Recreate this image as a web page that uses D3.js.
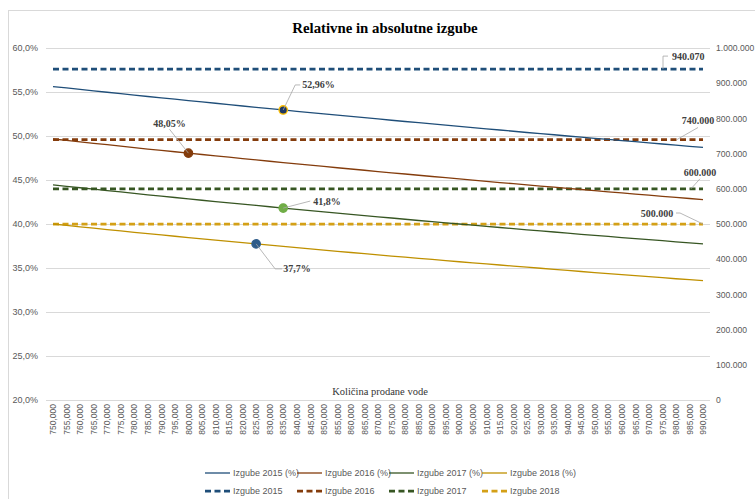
<!DOCTYPE html>
<html>
<head>
<meta charset="utf-8">
<script src="https://cdn.jsdelivr.net/npm/d3@7"></script>
<style>
  html, body { margin: 0; padding: 0; background: #fff; }
  svg { display: block; }
</style>
</head>
<body>
<svg id="chart" width="755" height="499"></svg>
<script>
// ---------------- DATA ----------------
const categories = [
  "750,000","755,000","760,000","765,000","770,000","775,000","780,000","785,000","790,000","795,000",
  "800,000","805,000","810,000","815,000","820,000","825,000","830,000","835,000","840,000","845,000",
  "850,000","855,000","860,000","865,000","870,000","875,000","880,000","885,000","890,000","895,000",
  "900,000","905,000","910,000","915,000","920,000","925,000","930,000","935,000","940,000","945,000",
  "950,000","955,000","960,000","965,000","970,000","975,000","980,000","985,000","990,000"
];

const pct2015 = [55.62,55.46,55.30,55.13,54.97,54.81,54.65,54.49,54.34,54.18,
  54.03,53.87,53.72,53.56,53.41,53.26,53.11,52.96,52.81,52.66,
  52.52,52.37,52.22,52.08,51.94,51.79,51.65,51.51,51.37,51.23,
  51.09,50.95,50.81,50.68,50.54,50.40,50.27,50.14,50.00,49.87,
  49.74,49.61,49.48,49.35,49.22,49.09,48.96,48.83,48.71];
const pct2016 = [49.66,49.50,49.33,49.17,49.01,48.84,48.68,48.52,48.37,48.21,
  48.05,47.90,47.74,47.59,47.44,47.28,47.13,46.98,46.84,46.69,
  46.54,46.39,46.25,46.11,45.96,45.82,45.68,45.54,45.40,45.26,
  45.12,44.98,44.85,44.71,44.58,44.44,44.31,44.18,44.05,43.92,
  43.79,43.66,43.53,43.40,43.27,43.15,43.02,42.90,42.77];
const pct2017 = [44.44,44.28,44.12,43.96,43.80,43.64,43.48,43.32,43.17,43.01,
  42.86,42.70,42.55,42.40,42.25,42.11,41.96,41.81,41.67,41.52,
  41.38,41.24,41.10,40.96,40.82,40.68,40.54,40.40,40.27,40.13,
  40.00,39.87,39.74,39.60,39.47,39.34,39.22,39.09,38.96,38.83,
  38.71,38.59,38.46,38.34,38.22,38.10,37.97,37.85,37.74];
const pct2018 = [40.00,39.84,39.68,39.53,39.37,39.22,39.06,38.91,38.76,38.61,
  38.46,38.31,38.17,38.02,37.88,37.74,37.59,37.45,37.31,37.17,
  37.04,36.90,36.76,36.63,36.50,36.36,36.23,36.10,35.97,35.84,
  35.71,35.59,35.46,35.34,35.21,35.09,34.97,34.84,34.72,34.60,
  34.48,34.36,34.25,34.13,34.01,33.90,33.78,33.67,33.56];

const abs2015 = 940070;
const abs2016 = 740000;
const abs2017 = 600000;
const abs2018 = 500000;

const seriesNames = ["Izgube 2015 (%)","Izgube 2016 (%)","Izgube 2017 (%)","Izgube 2018 (%)"];
const absNames = ["Izgube 2015","Izgube 2016","Izgube 2017","Izgube 2018"];

const leftTicks = [20,25,30,35,40,45,50,55,60];
const leftTickLabels = ["20,0%","25,0%","30,0%","35,0%","40,0%","45,0%","50,0%","55,0%","60,0%"];
const rightTicks = [0,100000,200000,300000,400000,500000,600000,700000,800000,900000,1000000];
const rightTickLabels = ["0","100.000","200.000","300.000","400.000","500.000","600.000","700.000","800.000","900.000","1.000.000"];

// labelled points (index into categories) and their label text
const pctLabelIdx = [17, 10, 17, 15];
const pctLabelText = ["52,96%","48,05%","41,8%","37,7%"];
const absLabelText = ["940.070","740.000","600.000","500.000"];

const title = "Relativne in absolutne izgube";
const xTitle = "Količina prodane vode";

// ---------------- STYLE ----------------
const solidColors = ["#1F4E79","#843C0C","#375623","#BF9000"];
const dashColors  = ["#1F4E79","#843C0C","#375623","#D4A017"];
const markerFill  = ["#1F3864","#843C0C","#70AD47","#2E5C8A"];
const markerStroke= ["#FFC000","#843C0C","#70AD47","#2E5C8A"];
const gridColor = "#D9D9D9";
const textColor = "#595959";

const svg = d3.select("#chart");

// chart border
svg.append("rect").attr("x", 8.5).attr("y", 10.5).attr("width", 800).attr("height", 600)
  .attr("fill", "#fff").attr("stroke", "#D9D9D9").attr("stroke-width", 1);

const plot = {left: 46, right: 710, top: 48, bottom: 400};

const x = d3.scalePoint().domain(categories).range([53, 703]);
const yL = d3.scaleLinear().domain([20, 60]).range([plot.bottom, plot.top]);
const yR = d3.scaleLinear().domain([0, 1000000]).range([plot.bottom, plot.top]);

// gridlines
svg.append("g").selectAll("line").data(leftTicks).join("line")
  .attr("x1", plot.left).attr("x2", plot.right)
  .attr("y1", d => Math.round(yL(d)) + 0.5).attr("y2", d => Math.round(yL(d)) + 0.5)
  .attr("stroke", gridColor).attr("stroke-width", 1);

// left axis
const leftAxis = d3.axisLeft(yL).tickValues(leftTicks)
  .tickFormat((d, i) => leftTickLabels[i]).tickSize(0).tickPadding(0);
const gL = svg.append("g").attr("transform", "translate(38,0)").call(leftAxis);
gL.select(".domain").remove();
gL.selectAll("text").attr("fill", textColor).style("font-family", "'Liberation Sans', Arial, sans-serif")
  .style("font-size", "9px");

// right axis
const rightAxis = d3.axisRight(yR).tickValues(rightTicks)
  .tickFormat((d, i) => rightTickLabels[i]).tickSize(0).tickPadding(0);
const gR = svg.append("g").attr("transform", "translate(716,0)").call(rightAxis);
gR.select(".domain").remove();
gR.selectAll("text").attr("fill", textColor).style("font-family", "'Liberation Sans', Arial, sans-serif")
  .style("font-size", "8.6px");

// bottom axis (rotated labels)
const bottomAxis = d3.axisBottom(x).tickSize(0).tickPadding(0);
const gB = svg.append("g").attr("transform", `translate(0,${plot.bottom})`).call(bottomAxis);
gB.select(".domain").remove();
gB.selectAll("text")
  .attr("transform", "rotate(-90)")
  .attr("x", -4).attr("y", 0).attr("dy", "0.32em")
  .attr("text-anchor", "end")
  .attr("fill", textColor)
  .style("font-family", "'Liberation Sans', Arial, sans-serif")
  .style("font-size", "8.5px");

// x axis title
svg.append("text").attr("x", 380).attr("y", 395).attr("text-anchor", "middle")
  .attr("fill", "#333").style("font-family", "'Liberation Serif', 'Times New Roman', serif")
  .style("font-size", "10.5px").text(xTitle);

// title
svg.append("text").attr("x", 385).attr("y", 33).attr("text-anchor", "middle")
  .attr("fill", "#000").style("font-family", "'Liberation Serif', 'Times New Roman', serif")
  .style("font-weight", "bold").style("font-size", "14.8px").text(title);

// dashed absolute lines
const absVals = [abs2015, abs2016, abs2017, abs2018];
const absSeries = absVals.map(v => categories.map(c => ({c, v})));
const lineR = d3.line().x(d => x(d.c)).y(d => yR(d.v));
svg.append("g").selectAll("path").data(absSeries).join("path")
  .attr("d", lineR).attr("fill", "none")
  .attr("stroke", (d, i) => dashColors[i]).attr("stroke-width", 2.75)
  .attr("stroke-dasharray", "6,3.5");

// solid pct lines
const pctSeries = [pct2015, pct2016, pct2017, pct2018].map(arr => arr.map((v, i) => ({c: categories[i], v})));
const lineL = d3.line().x(d => x(d.c)).y(d => yL(d.v));
svg.append("g").selectAll("path").data(pctSeries).join("path")
  .attr("d", lineL).attr("fill", "none")
  .attr("stroke", (d, i) => solidColors[i]).attr("stroke-width", 1.3);

// markers
const markerData = pctSeries.map((s, i) => s[pctLabelIdx[i]]);
svg.append("g").selectAll("circle").data(markerData).join("circle")
  .attr("cx", d => x(d.c)).attr("cy", d => yL(d.v)).attr("r", 4.2)
  .attr("fill", (d, i) => markerFill[i]).attr("stroke", (d, i) => markerStroke[i]).attr("stroke-width", 1.3);

// data labels with leader lines (offsets relative to the anchor point)
const labelFont = "'Liberation Serif', 'Times New Roman', serif";
const pctLabelLayout = [
  {leader: [[0,0],[12,-25],[17,-25]], tx: 19, ty: -25, anchor: "start"},
  {leader: [[0,0],[-19,-24]], tx: -19, ty: -30, anchor: "middle"},
  {leader: [[0,0],[27,-7]], tx: 30, ty: -7, anchor: "start"},
  {leader: [[0,0],[19,25],[26,25]], tx: 27, ty: 25, anchor: "start"}
];
const absLabelLayout = [
  {px: 663, leader: [[0,0],[0,-13],[5,-13]], tx: 9, ty: -13, anchor: "start"},
  {px: 677, leader: [[0,0],[21,-12]], tx: 21, ty: -19, anchor: "middle"},
  {px: 691, leader: [[0,0],[9,-10]], tx: 9, ty: -16, anchor: "middle"},
  {px: 703, leader: [[0,0],[-23,-11],[-27,-11]], tx: -46, ty: -11, anchor: "middle"}
];
const gLab = svg.append("g");
markerData.forEach((d, i) => {
  const px = x(d.c), py = yL(d.v), L = pctLabelLayout[i];
  gLab.append("path").attr("d", d3.line()(L.leader.map(p => [px + p[0], py + p[1]])))
    .attr("fill", "none").attr("stroke", "#A6A6A6").attr("stroke-width", 0.8);
  gLab.append("text").attr("x", px + L.tx).attr("y", py + L.ty).attr("dy", "0.35em")
    .attr("text-anchor", L.anchor).attr("fill", "#404040")
    .style("font-family", labelFont).style("font-weight", "bold").style("font-size", "10px")
    .text(pctLabelText[i]);
});
absVals.forEach((v, i) => {
  const L = absLabelLayout[i], px = L.px, py = yR(v);
  gLab.append("path").attr("d", d3.line()(L.leader.map(p => [px + p[0], py + p[1]])))
    .attr("fill", "none").attr("stroke", "#A6A6A6").attr("stroke-width", 0.8);
  gLab.append("text").attr("x", px + L.tx).attr("y", py + L.ty).attr("dy", "0.35em")
    .attr("text-anchor", L.anchor).attr("fill", "#404040")
    .style("font-family", labelFont).style("font-weight", "bold").style("font-size", "10px")
    .text(absLabelText[i]);
});

// legend
const legendCols = [205, 297, 389, 482];
const legend = svg.append("g").style("font-family", "'Liberation Sans', Arial, sans-serif").style("font-size", "9px");
seriesNames.forEach((n, i) => {
  legend.append("line").attr("x1", legendCols[i]).attr("x2", legendCols[i] + 25)
    .attr("y1", 473).attr("y2", 473).attr("stroke", solidColors[i]).attr("stroke-width", 1.3);
  legend.append("text").attr("x", legendCols[i] + 28).attr("y", 473).attr("dy", "0.33em")
    .attr("fill", textColor).text(n);
});
absNames.forEach((n, i) => {
  legend.append("line").attr("x1", legendCols[i]).attr("x2", legendCols[i] + 25)
    .attr("y1", 491).attr("y2", 491).attr("stroke", dashColors[i]).attr("stroke-width", 2.75)
    .attr("stroke-dasharray", "6,3.5");
  legend.append("text").attr("x", legendCols[i] + 28).attr("y", 491).attr("dy", "0.33em")
    .attr("fill", textColor).text(n);
});
</script>
</body>
</html>
